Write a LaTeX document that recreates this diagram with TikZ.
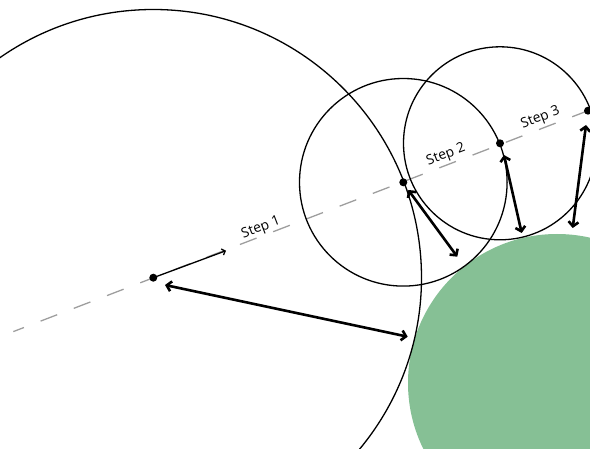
\documentclass[tikz,border=0pt]{standalone}
\usepackage{fontspec}
\setmainfont{Open Sans}
\usetikzlibrary{arrows.meta}
\begin{document}
\begin{tikzpicture}[x=1pt,y=1pt,
  circ/.style={draw=black, line width=1.3pt},
  dist/.style={line width=2.6pt, {Straight Barb[length=4.5pt,width=10pt]}-{Straight Barb[length=4.5pt,width=10pt]}},
  thin/.style={line width=1.3pt, -{Straight Barb[length=3pt,width=6.5pt]}},
  ray/.style={draw=black!38, line width=1.3pt, dash pattern=on 17.8pt off 17.8pt, dash phase=6.4pt},
  dot/.style={circle, fill=black, inner sep=0pt, minimum size=8pt},
  lab/.style={font=\fontsize{13.8}{15}\selectfont, rotate=21, inner sep=0pt}]
\definecolor{obj}{RGB}{134,192,149}
\useasboundingbox (0,0) rectangle (590,448);
\clip (0,0) rectangle (590,448);
% centres
\coordinate (c0) at (153.3,170.3);
\coordinate (c1) at (403.3,265.7);
\coordinate (c2) at (500,304.7);
\coordinate (c3) at (588,337.3);
\coordinate (cg) at (557,65);
\coordinate (rs) at (13.3,116.4);
\coordinate (re) at (600,341.9);
% object
\fill[obj] (cg) circle[radius=149];
% ray
\draw[ray] (rs) -- (re);
% circles
\draw[circ] (c0) circle[radius=268.2];
\draw[circ] (c1) circle[radius=103.8];
\draw[circ] (c2) circle[radius=96.5];
% arrow endpoints
\coordinate (s1) at (226,197.3);
\coordinate (a0s) at (165,163);
\coordinate (a0e) at (407.7,111.3);
\coordinate (a1s) at (408.3,258);
\coordinate (a1e) at (457.3,191.3);
\coordinate (a2s) at (504,293);
\coordinate (a2e) at (521.7,215);
\coordinate (a3s) at (586,323);
\coordinate (a3e) at (572.7,220);
\draw[thin] (c0) -- (s1);
\draw[dist] (a0s) -- (a0e);
\draw[dist] (a1s) -- (a1e);
\draw[dist] (a2s) -- (a2e);
\draw[dist] (a3s) -- (a3e);
% dots
\node[dot] (d0) at (c0) {};
\node[dot] (d1) at (c1) {};
\node[dot] (d2) at (c2) {};
\node[dot] (d3) at (c3) {};
% labels
\node[lab] (l1) at (261,220) {Step 1};
\node[lab] (l2) at (446,293) {Step 2};
\node[lab] (l3) at (540.5,330) {Step 3};
\end{tikzpicture}
\end{document}
